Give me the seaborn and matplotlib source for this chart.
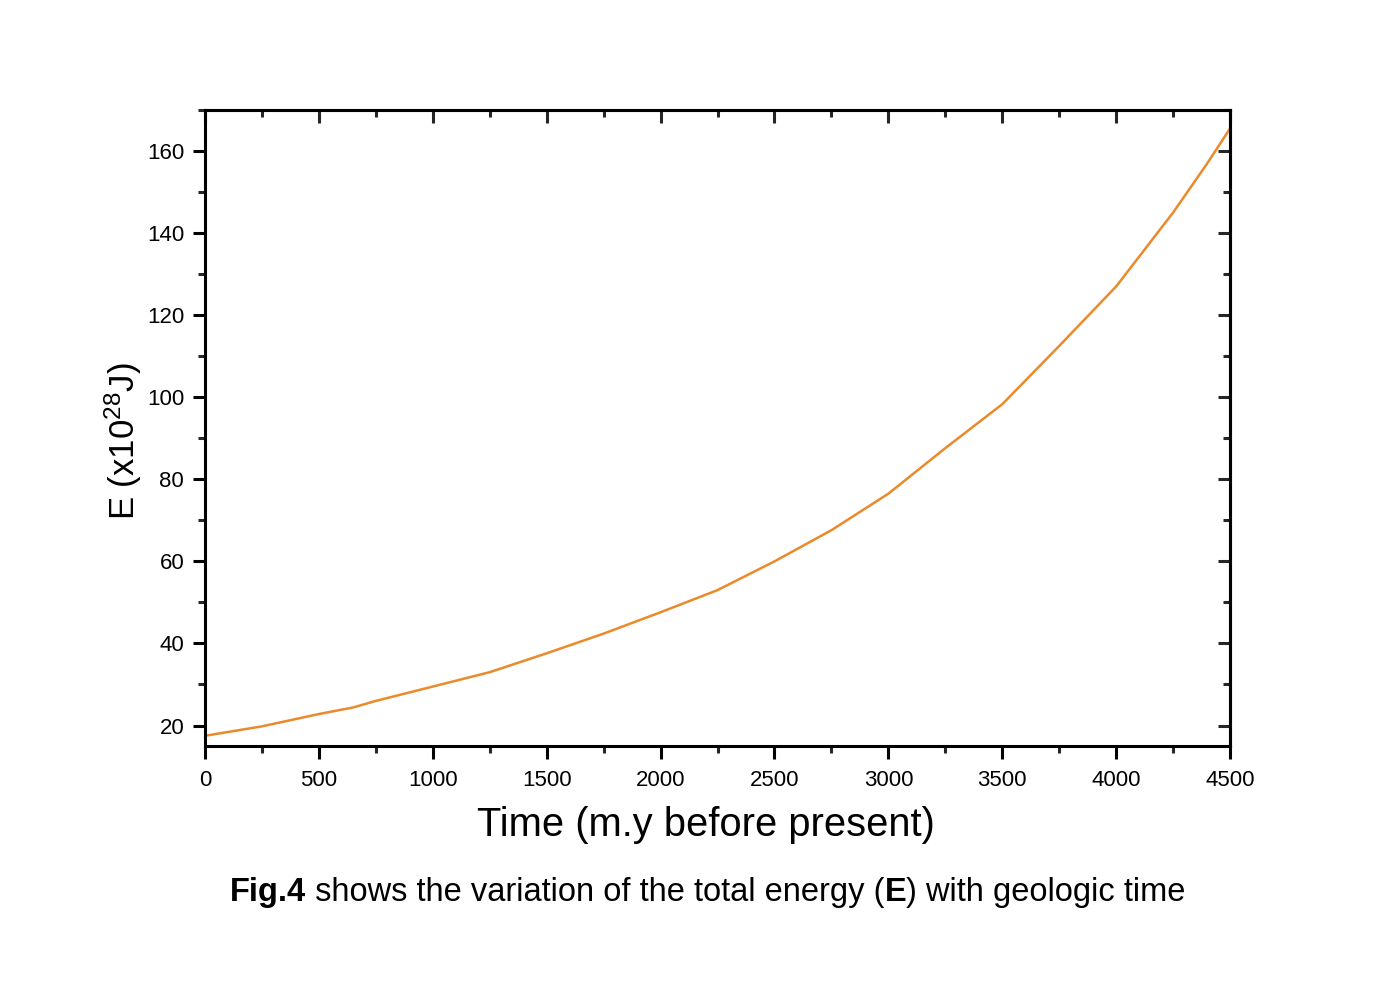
import matplotlib
matplotlib.use("Agg")
import matplotlib.pyplot as plt
import seaborn as sns
import pandas as pd
from matplotlib.ticker import MultipleLocator

# Data
time_my = [0, 250, 500, 650, 750, 1000, 1250, 1500, 1750, 2000, 2250, 2500,
           2750, 3000, 3250, 3500, 3750, 4000, 4250, 4400, 4500]
energy = [17.5, 19.8, 22.8, 24.4, 26.0, 29.5, 33.0, 37.6, 42.4, 47.6, 53.0, 60.0,
          67.6, 76.5, 87.6, 98.3, 112.5, 127.0, 145.0, 157.0, 165.5]

x_ticks = [0, 500, 1000, 1500, 2000, 2500, 3000, 3500, 4000, 4500]
y_ticks = [20, 40, 60, 80, 100, 120, 140, 160]

df = pd.DataFrame({"t": time_my, "E": energy})

sns.set_theme(style="white")
plt.rcParams["font.family"] = ["Liberation Sans", "DejaVu Sans"]
plt.rcParams["mathtext.fontset"] = "custom"
plt.rcParams["mathtext.rm"] = "Liberation Sans"
plt.rcParams["mathtext.it"] = "Liberation Sans:italic"
plt.rcParams["mathtext.bf"] = "Liberation Sans:bold"

fig = plt.figure(figsize=(13.73, 9.81), dpi=100)
ax = fig.add_axes([0.1493, 0.2395, 0.7466, 0.6484])

sns.lineplot(data=df, x="t", y="E", ax=ax, color="#EA8A2A", linewidth=1.8)

ax.set_xlim(0, 4500)
ax.set_ylim(15, 170)
ax.set_xticks(x_ticks)
ax.set_yticks(y_ticks)
ax.xaxis.set_minor_locator(MultipleLocator(250))
ax.yaxis.set_minor_locator(MultipleLocator(10))

for s in ax.spines.values():
    s.set_visible(True)
    s.set_color("black")
    s.set_linewidth(2.2)

ax.tick_params(axis="both", which="major", direction="out", length=9, width=2.2,
               labelsize=16, colors="black", bottom=True, left=True)
ax.tick_params(axis="x", which="major", pad=8)
ax.tick_params(axis="y", which="major", pad=6)
ax.tick_params(axis="both", which="minor", direction="out", length=5, width=2.2,
               bottom=True, left=True)

# mirrored ticks pointing inward on top and right
top = ax.secondary_xaxis("top")
top.set_xticks(x_ticks)
top.xaxis.set_minor_locator(MultipleLocator(250))
top.tick_params(axis="x", which="major", direction="in", length=9, width=2.2,
                labeltop=False, top=True)
top.tick_params(axis="x", which="minor", direction="in", length=5, width=2.2, top=True)
top.spines["top"].set_linewidth(2.2)

right = ax.secondary_yaxis("right")
right.set_yticks(y_ticks)
right.yaxis.set_minor_locator(MultipleLocator(10))
right.tick_params(axis="y", which="major", direction="in", length=9, width=2.2,
                  labelright=False, right=True)
right.tick_params(axis="y", which="minor", direction="in", length=5, width=2.2, right=True)
right.spines["right"].set_linewidth(2.2)

ax.set_xlabel("Time (m.y before present)", fontsize=28.7, labelpad=12, color="black")
ax.xaxis.set_label_coords(0.489, -0.095)
ax.set_ylabel(r"E (x10$^{28}$J)", fontsize=25, color="black")
ax.yaxis.set_label_coords(-0.0595, 0.48)

# caption built from pieces (bold / regular)
pieces = [("Fig.4", "bold"), (" shows the variation of the total energy (", "normal"),
          ("E", "bold"), (") with geologic time", "normal")]
fig.canvas.draw()
renderer = fig.canvas.get_renderer()
texts = []
for s, w in pieces:
    t = fig.text(0, 0.0907, s, ha="left", va="center", fontsize=23.5,
                 fontweight=w, color="black")
    texts.append(t)
widths = [t.get_window_extent(renderer).width for t in texts]
total = sum(widths)
W = fig.get_figwidth() * fig.dpi
x0 = 708 - total / 2
for t, w in zip(texts, widths):
    t.set_x(x0 / W)
    x0 += w

fig.savefig("out.png", dpi=100, facecolor="white")
